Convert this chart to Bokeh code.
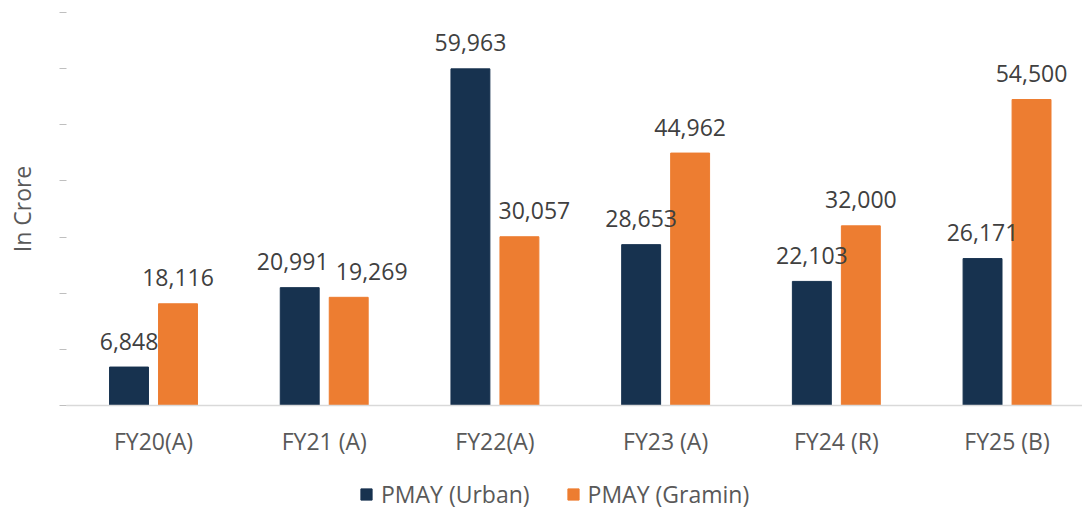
from bokeh.plotting import figure
from bokeh.models import ColumnDataSource, FixedTicker, Legend, LegendItem, Range1d, CustomJSTickFormatter
from bokeh.layouts import column
from bokeh.embed import file_html
from bokeh.resources import INLINE
from bokeh.core.properties import value

categories = ["FY20(A)", "FY21 (A)", "FY22(A)", "FY23 (A)", "FY24 (R)", "FY25 (B)"]
urban = [6848, 20991, 59963, 28653, 22103, 26171]
gramin = [18116, 19269, 30057, 44962, 32000, 54500]
y_ticks = [0, 10000, 20000, 30000, 40000, 50000, 60000, 70000]
series_names = ["PMAY (Urban)", "PMAY (Gramin)"]

# label nudges in screen px (style only, Excel-like overlap avoidance)
urban_nudge = [0, -7, 0, 0, 0, 0]
gramin_nudge = [0, 23, 15, 0, 0, 0]

NAVY = "#17324F"
ORANGE = "#ED7D31"
FONT = "Open Sans"

pos = [i + 0.5 for i in range(len(categories))]
off = 0.1435
bw = 0.228

src_u = ColumnDataSource(dict(x=[p_ - off for p_ in pos], top=urban,
                              lbl=[f"{v:,}" for v in urban], dx=urban_nudge))
src_g = ColumnDataSource(dict(x=[p_ + off for p_ in pos], top=gramin,
                              lbl=[f"{v:,}" for v in gramin], dx=gramin_nudge))

p = figure(width=1082, height=470, output_backend="svg", toolbar_location=None,
           x_range=Range1d(-0.0097, 5.942), y_range=Range1d(0, 70000),
           min_border_left=66, min_border_right=0, min_border_top=12, min_border_bottom=65)
p.outline_line_color = None
p.xgrid.visible = False
p.ygrid.visible = False
p.background_fill_color = "white"
p.border_fill_color = "white"

p.vbar(x="x", top="top", width=bw, source=src_u, fill_color=NAVY, line_color=NAVY)
p.vbar(x="x", top="top", width=bw, source=src_g, fill_color=ORANGE, line_color=ORANGE)

for src in (src_u, src_g):
    p.text(x="x", y="top", text="lbl", source=src, x_offset="dx", y_offset=-26,
           text_align="center", text_baseline="alphabetic",
           text_font=value(FONT), text_font_size="23px", text_color="#404040")

# x axis
p.xaxis.ticker = FixedTicker(ticks=pos)
p.xaxis.major_label_overrides = {pv: c for pv, c in zip(pos, categories)}
p.xaxis.major_tick_line_color = None
p.xaxis.minor_tick_line_color = None
p.xaxis.axis_line_color = "#D9D9D9"
p.xaxis.axis_line_width = 1.5
p.xaxis.major_label_text_font = FONT
p.xaxis.major_label_text_font_size = "23px"
p.xaxis.major_label_text_color = "#595959"
p.xaxis.major_label_standoff = 13

# y axis
p.yaxis.ticker = FixedTicker(ticks=y_ticks)
p.yaxis.formatter = CustomJSTickFormatter(code="return ''")
p.yaxis.axis_line_color = None
p.yaxis.minor_tick_line_color = None
p.yaxis.major_tick_line_color = "#BFBFBF"
p.yaxis.major_tick_in = 0
p.yaxis.major_tick_out = 7
p.yaxis.major_label_standoff = 0
p.yaxis.axis_label = "In Crore"
p.yaxis.axis_label_text_font = FONT
p.yaxis.axis_label_text_font_size = "23px"
p.yaxis.axis_label_text_font_style = "normal"
p.yaxis.axis_label_text_color = "#595959"
p.yaxis.axis_label_standoff = 22

# legend strip below the chart (its frame is aligned with the chart's frame)
lg = figure(width=1082, height=37, output_backend="svg", toolbar_location=None,
            x_range=Range1d(6, 7), y_range=Range1d(0, 70000),
            min_border_left=0, min_border_right=0, min_border_top=0, min_border_bottom=0)
lg.axis.visible = False
lg.grid.visible = False
lg.outline_line_color = None
lg.background_fill_color = "white"
lg.border_fill_color = "white"
# hidden legend proxies that share the series data
du = lg.vbar(x="x", top="top", width=bw, source=src_u, fill_color=NAVY, line_color=NAVY, visible=False)
dg = lg.vbar(x="x", top="top", width=bw, source=src_g, fill_color=ORANGE, line_color=ORANGE, visible=False)

legend = Legend(items=[LegendItem(label=series_names[0], renderers=[du]),
                       LegendItem(label=series_names[1], renderers=[dg])],
                location=(293, -3), orientation="horizontal",
                glyph_width=14, glyph_height=14, label_standoff=8, spacing=36,
                padding=0, margin=0, border_line_color=None, background_fill_alpha=0,
                inactive_fill_alpha=0,
                label_text_font=FONT, label_text_font_size="23px", label_text_color="#595959")
lg.add_layout(legend, "center")

layout = column(p, lg, spacing=0)
open("out.html", "w").write(file_html(layout, INLINE))
